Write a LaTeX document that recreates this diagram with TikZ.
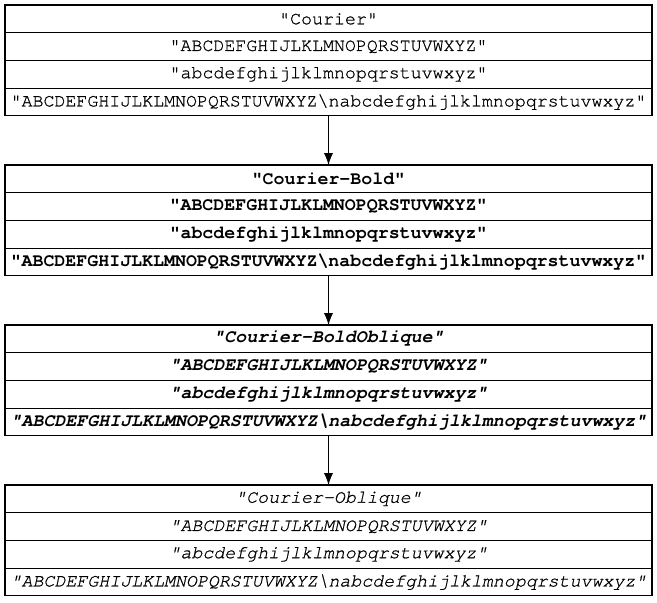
\documentclass[tikz,border=0pt]{standalone}
\usepackage{fontspec}
\setmonofont{texgyrecursor}[Extension=.otf, UprightFont=*-regular, BoldFont=*-bold, ItalicFont=*-italic, BoldItalicFont=*-bolditalic, UprightFeatures={FakeBold=0.8}, ItalicFeatures={FakeBold=0.8}]
\usetikzlibrary{arrows.meta,positioning}

\begin{document}
\begin{tikzpicture}[
    x=0.75pt, y=-0.75pt,
    field/.style={rectangle, draw, line width=0.8pt, outer sep=0pt, inner sep=0pt, minimum width=485.25pt, minimum height=20.8pt, font=\ttfamily\fontsize{13.7}{16}\selectfont},
    plain/.style={field},
    bold/.style={field, font=\ttfamily\bfseries\fontsize{13.7}{16}\selectfont},
    boldoblique/.style={field, font=\ttfamily\bfseries\itshape\fontsize{13.7}{16}\selectfont},
    oblique/.style={field, font=\ttfamily\itshape\fontsize{13.7}{16}\selectfont},
    link/.style={-{Latex[length=9pt,width=7pt]}, line width=0.8pt}
]
\useasboundingbox (0,0) rectangle (657,603);

% Courier
\node[plain, anchor=north] (c1) at (328.5,5) {"Courier"};
\node[plain, below=0pt of c1] (c2) {"ABCDEFGHIJLKLMNOPQRSTUVWXYZ"};
\node[plain, below=0pt of c2] (c3) {"abcdefghijlklmnopqrstuvwxyz"};
\node[plain, below=0pt of c3] (c4) {"ABCDEFGHIJLKLMNOPQRSTUVWXYZ\textbackslash nabcdefghijlklmnopqrstuvwxyz"};

% Courier-Bold
\node[bold, anchor=north] (b1) at (328.5,165) {"Courier-Bold"};
\node[bold, below=0pt of b1] (b2) {"ABCDEFGHIJLKLMNOPQRSTUVWXYZ"};
\node[bold, below=0pt of b2] (b3) {"abcdefghijlklmnopqrstuvwxyz"};
\node[bold, below=0pt of b3] (b4) {"ABCDEFGHIJLKLMNOPQRSTUVWXYZ\textbackslash nabcdefghijlklmnopqrstuvwxyz"};

% Courier-BoldOblique
\node[boldoblique, anchor=north] (bo1) at (328.5,325) {"Courier-BoldOblique"};
\node[boldoblique, below=0pt of bo1] (bo2) {"ABCDEFGHIJLKLMNOPQRSTUVWXYZ"};
\node[boldoblique, below=0pt of bo2] (bo3) {"abcdefghijlklmnopqrstuvwxyz"};
\node[boldoblique, below=0pt of bo3] (bo4) {"ABCDEFGHIJLKLMNOPQRSTUVWXYZ\textbackslash nabcdefghijlklmnopqrstuvwxyz"};

% Courier-Oblique
\node[oblique, anchor=north] (o1) at (328.5,485) {"Courier-Oblique"};
\node[oblique, below=0pt of o1] (o2) {"ABCDEFGHIJLKLMNOPQRSTUVWXYZ"};
\node[oblique, below=0pt of o2] (o3) {"abcdefghijlklmnopqrstuvwxyz"};
\node[oblique, below=0pt of o3] (o4) {"ABCDEFGHIJLKLMNOPQRSTUVWXYZ\textbackslash nabcdefghijlklmnopqrstuvwxyz"};

% Edges
\draw[link] (c4) -- (b1);
\draw[link] (b4) -- (bo1);
\draw[link] (bo4) -- (o1);

\end{tikzpicture}
\end{document}
